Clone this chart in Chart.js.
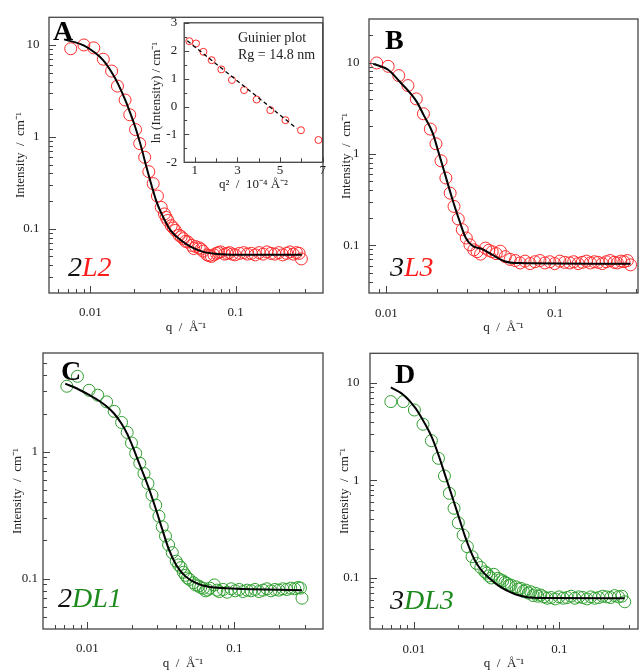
<!DOCTYPE html>
<html lang="en">
<head>
<meta charset="UTF-8" />
<title>SANS intensity curves</title>
<script src="https://cdn.jsdelivr.net/npm/chart.js"></script>
<style>
  body { margin: 0; background: #fff; width: 639px; height: 671px; overflow: hidden; position: relative; font-family: "Liberation Serif", serif; }
  canvas { position: absolute; }
  .tag { position: absolute; font-size: 28px; line-height: 28px; white-space: nowrap; }
  .letter { font-weight: bold; color: #000; }
  .sample { font-style: italic; color: #111; }
  .note { position: absolute; font-size: 14px; line-height: 14px; color: #222; white-space: nowrap; }
  .red { color: #ff1a1a; }
  .green { color: #1d8a1d; }
</style>
</head>
<body>
<canvas id="cA" width="330" height="340" style="left:0;top:0"></canvas>
<canvas id="cB" width="325" height="340" style="left:320px;top:0"></canvas>
<canvas id="cC" width="330" height="336" style="left:0;top:335px"></canvas>
<canvas id="cD" width="325" height="336" style="left:320px;top:335px"></canvas>
<canvas id="cInset" width="182" height="190" style="left:148px;top:8px"></canvas>

<div class="tag letter" style="left:53px;top:17px">A</div>
<div class="tag letter" style="left:385px;top:26px">B</div>
<div class="tag letter" style="left:61px;top:357px">C</div>
<div class="tag letter" style="left:395px;top:360px">D</div>
<div class="tag sample" style="left:68px;top:253px">2<span class="red">L2</span></div>
<div class="tag sample" style="left:390px;top:253px">3<span class="red">L3</span></div>
<div class="tag sample" style="left:58px;top:584px">2<span class="green">DL1</span></div>
<div class="tag sample" style="left:390px;top:586px">3<span class="green">DL3</span></div>
<div class="note" style="left:238px;top:31px">Guinier plot</div>
<div class="note" style="left:238px;top:48px">Rg = 14.8 nm</div>

<script>
// ---- data: panel A (2L2)
const qA = [0.00734, 0.00904, 0.01057, 0.0123, 0.01403, 0.01539, 0.01737, 0.0187, 0.0205, 0.0219,
  0.0237, 0.0253, 0.0271, 0.029, 0.0308, 0.0324, 0.0333, 0.0342, 0.0361, 0.0373,
  0.0385, 0.0409, 0.0423, 0.0438, 0.0453, 0.0469, 0.0499, 0.0515, 0.0531, 0.0562,
  0.058, 0.0598, 0.0637, 0.0658, 0.0682, 0.071, 0.0738, 0.0764, 0.0789, 0.0841,
  0.0875, 0.091, 0.095, 0.0993, 0.1064, 0.1138, 0.1208, 0.1285, 0.1368, 0.1455,
  0.155, 0.1647, 0.1754, 0.1866, 0.1986, 0.211, 0.2246, 0.2366, 0.2495, 0.2624,
  0.274, 0.284];
const iA = [9.1, 10.0, 9.3, 7.0, 5.2, 3.57, 2.52, 1.74, 1.20, 0.845,
  0.60, 0.418, 0.31, 0.227, 0.171, 0.145, 0.133, 0.123, 0.108, 0.102,
  0.096, 0.085, 0.082, 0.078, 0.073, 0.072, 0.066, 0.061, 0.064, 0.062,
  0.060, 0.057, 0.052, 0.051, 0.050, 0.052, 0.054, 0.055, 0.056, 0.053,
  0.054, 0.055, 0.053, 0.052, 0.054, 0.055, 0.053, 0.054, 0.052, 0.055,
  0.053, 0.056, 0.054, 0.053, 0.055, 0.052, 0.054, 0.056, 0.053, 0.055,
  0.054, 0.047];
const fitQA = [0.0066, 0.009, 0.0106, 0.0123, 0.0142, 0.0155, 0.0176, 0.019, 0.0205, 0.0225,
  0.0241, 0.0267, 0.0285, 0.031, 0.0357, 0.0421, 0.0494, 0.060, 0.0792, 0.12, 0.286];
const fitIA = [11.5, 9.9, 8.4, 6.8, 4.9, 3.8, 2.42, 1.75, 1.25, 0.76,
  0.50, 0.28, 0.20, 0.145, 0.096, 0.075, 0.0634, 0.056, 0.0528, 0.052, 0.052];

// ---- panel B (3L3)
const qB = [0.00877, 0.01026, 0.01186, 0.01344, 0.01506, 0.0166, 0.01824, 0.0197, 0.0211, 0.02255,
  0.0239, 0.0252, 0.0267, 0.0282, 0.0298, 0.0313, 0.033, 0.0345, 0.0362, 0.0387,
  0.0405, 0.0424, 0.0448, 0.0474, 0.0507, 0.0542, 0.0581, 0.0621, 0.0664, 0.0711,
  0.076, 0.0813, 0.0871, 0.0931, 0.0995, 0.1067, 0.114, 0.122, 0.129, 0.137,
  0.145, 0.1535, 0.162, 0.171, 0.180, 0.1905, 0.201, 0.212, 0.224, 0.234,
  0.245, 0.256, 0.268, 0.280];
const iB = [9.9, 9.1, 7.2, 5.6, 4.0, 2.75, 1.87, 1.29, 0.84, 0.545,
  0.372, 0.266, 0.194, 0.148, 0.120, 0.101, 0.089, 0.085, 0.080, 0.093,
  0.088, 0.085, 0.081, 0.086, 0.075, 0.070, 0.068, 0.064, 0.067, 0.063,
  0.066, 0.068, 0.064, 0.066, 0.063, 0.067, 0.065, 0.064, 0.066, 0.063,
  0.065, 0.067, 0.064, 0.066, 0.065, 0.063, 0.066, 0.068, 0.065, 0.064,
  0.067, 0.066, 0.068, 0.061];
const fitQB = [0.00838, 0.01026, 0.012, 0.0151, 0.0166, 0.01884, 0.0204, 0.0216, 0.0247, 0.027,
  0.0296, 0.0324, 0.037, 0.0424, 0.0507, 0.0607, 0.28];
const fitIB = [9.7, 8.35, 6.2, 3.76, 2.69, 1.69, 1.04, 0.73, 0.315, 0.19,
  0.12, 0.0986, 0.0908, 0.0787, 0.0664, 0.0638, 0.0627];

// ---- panel C (2DL1)
const qC = [0.00726, 0.00857, 0.01028, 0.01178, 0.01353, 0.01524, 0.0171, 0.01867, 0.01997, 0.02134,
  0.02274, 0.02428, 0.02584, 0.02752, 0.0292, 0.0307, 0.0323, 0.034, 0.0357, 0.0378,
  0.0402, 0.0418, 0.0434, 0.045, 0.0465, 0.048, 0.0494, 0.0528, 0.0545, 0.0571,
  0.059, 0.0615, 0.0636, 0.0658, 0.068, 0.073, 0.076, 0.0789, 0.0839, 0.0893,
  0.0951, 0.1012, 0.1077, 0.1146, 0.122, 0.1298, 0.1381, 0.1469, 0.1563, 0.1663,
  0.177, 0.1884, 0.2004, 0.2133, 0.227, 0.2415, 0.257, 0.271, 0.281, 0.288];
const iC = [3.28, 3.93, 3.05, 2.79, 2.47, 2.08, 1.70, 1.42, 1.17, 0.97,
  0.81, 0.673, 0.562, 0.455, 0.379, 0.31, 0.256, 0.216, 0.184, 0.16,
  0.137, 0.128, 0.122, 0.112, 0.106, 0.101, 0.0984, 0.0926, 0.089, 0.0873,
  0.085, 0.0837, 0.080, 0.0812, 0.084, 0.089, 0.081, 0.079, 0.082, 0.078,
  0.083, 0.080, 0.082, 0.079, 0.081, 0.080, 0.082, 0.079, 0.081, 0.083,
  0.080, 0.082, 0.081, 0.083, 0.082, 0.084, 0.083, 0.085, 0.084, 0.070];
const fitQC = [0.00708, 0.0085, 0.0104, 0.012, 0.0135, 0.0152, 0.0171, 0.0187, 0.02, 0.0227,
  0.0258, 0.0292, 0.0323, 0.0357, 0.0402, 0.0465, 0.055, 0.0641, 0.097, 0.288];
const fitIC = [3.44, 3.15, 2.78, 2.52, 2.28, 2.0, 1.66, 1.38, 1.15, 0.79,
  0.54, 0.355, 0.245, 0.172, 0.128, 0.104, 0.092, 0.087, 0.0835, 0.081];

// ---- panel D (3DL3)
const qD = [0.00695, 0.00846, 0.01009, 0.01156, 0.0132, 0.01476, 0.01622, 0.01754, 0.01888, 0.0202,
  0.0218, 0.0233, 0.0251, 0.0269, 0.0288, 0.0307, 0.0316, 0.0327, 0.034, 0.0354,
  0.0377, 0.0392, 0.0408, 0.0422, 0.0436, 0.045, 0.0465, 0.0502, 0.0522, 0.0543,
  0.0565, 0.0587, 0.061, 0.0635, 0.066, 0.0687, 0.071, 0.0743, 0.078, 0.0824,
  0.0877, 0.0935, 0.0995, 0.106, 0.1127, 0.12, 0.1276, 0.1358, 0.1449, 0.1542,
  0.164, 0.1746, 0.1858, 0.1977, 0.211, 0.2244, 0.2388, 0.2541, 0.268, 0.2805];
const iD = [6.4, 6.4, 5.25, 3.75, 2.55, 1.68, 1.11, 0.736, 0.517, 0.367,
  0.275, 0.209, 0.165, 0.141, 0.128, 0.1156, 0.112, 0.105, 0.100, 0.109,
  0.099, 0.096, 0.0936, 0.090, 0.0879, 0.084, 0.0845, 0.0812, 0.077, 0.0782,
  0.073, 0.0751, 0.070, 0.0722, 0.066, 0.0695, 0.065, 0.0668, 0.064, 0.062,
  0.063, 0.061, 0.064, 0.062, 0.063, 0.065, 0.062, 0.064, 0.063, 0.061,
  0.064, 0.062, 0.063, 0.065, 0.064, 0.063, 0.066, 0.064, 0.065, 0.057];
const fitQD = [0.00695, 0.0085, 0.01026, 0.0118, 0.0133, 0.0148, 0.0164, 0.0178, 0.0192, 0.0208,
  0.0224, 0.0243, 0.0262, 0.0285, 0.0307, 0.035, 0.0397, 0.0455, 0.0516, 0.06, 0.075, 0.28];
const fitID = [8.96, 7.5, 5.5, 3.9, 2.75, 1.80, 1.13, 0.78, 0.55, 0.38,
  0.27, 0.195, 0.152, 0.125, 0.110, 0.092, 0.080, 0.072, 0.0668, 0.0635, 0.0622, 0.0618];

// ---- inset: Guinier plot
const q2G = [0.74, 1.055, 1.40, 1.79, 2.24, 2.74, 3.31, 3.90, 4.54, 5.25, 5.98, 6.80];
const lnIG = [2.34, 2.26, 1.96, 1.66, 1.33, 0.95, 0.59, 0.25, -0.13, -0.49, -0.85, -1.20];
const guinierQ2 = [0.646, 5.78];
const guinierLn = [2.355, -0.785];

// ---- tick labels and tick marks
const qLabels = [0.01, 0.1];
const qMinorA = [0.006, 0.007, 0.008, 0.009, 0.02, 0.03, 0.04, 0.05, 0.06, 0.07, 0.08, 0.09, 0.2, 0.3];
const qMinorB = [0.009, 0.02, 0.03, 0.04, 0.05, 0.06, 0.07, 0.08, 0.09, 0.2, 0.3];
const iLabels = [0.1, 1, 10];
const iLabelsC = [0.1, 1];
const iMinorA = [0.03, 0.04, 0.05, 0.06, 0.07, 0.08, 0.09, 0.2, 0.3, 0.4, 0.5, 0.6, 0.7, 0.8, 0.9, 2, 3, 4, 5, 6, 7, 8, 9];
const iMinorB = [0.04, 0.05, 0.06, 0.07, 0.08, 0.09, 0.2, 0.3, 0.4, 0.5, 0.6, 0.7, 0.8, 0.9, 2, 3, 4, 5, 6, 7, 8, 9, 20];
const iMinorC = [0.05, 0.06, 0.07, 0.08, 0.09, 0.2, 0.3, 0.4, 0.5, 0.6, 0.7, 0.8, 0.9, 2, 3, 4, 5];
const iMinorD = [0.04, 0.05, 0.06, 0.07, 0.08, 0.09, 0.2, 0.3, 0.4, 0.5, 0.6, 0.7, 0.8, 0.9, 2, 3, 4, 5, 6, 7, 8, 9];
const q2Labels = [1, 3, 5, 7];
const q2Minor = [2, 4, 6];
const lnLabels = [-2, -1, 0, 1, 2, 3];
const lnMinor = [-1.5, -0.5, 0.5, 1.5, 2.5];

const RED = "#ff2b2b";
const GREEN = "#2f9f2f";
const FONT = "Liberation Serif";

// frame box + inward tick marks
function frameTicks(xMajor, xMinor, yMajor, yMinor, fillArea) {
  return {
    id: "frameTicks",
    beforeDraw(chart) {
      if (!fillArea) return;
      const a = chart.chartArea, ctx = chart.ctx;
      ctx.save();
      ctx.fillStyle = "#fff";
      ctx.fillRect(a.left, a.top, a.right - a.left, a.bottom - a.top);
      ctx.restore();
    },
    afterDraw(chart) {
      const { ctx, chartArea: a, scales } = chart;
      ctx.save();
      ctx.strokeStyle = "#444";
      ctx.lineWidth = 1;
      const mark = (vals, len, horiz) => vals.forEach(v => {
        if (horiz) {
          const p = Math.round(scales.x.getPixelForValue(v)) + 0.5;
          ctx.moveTo(p, a.bottom); ctx.lineTo(p, a.bottom - len);
        } else {
          const p = Math.round(scales.y.getPixelForValue(v)) + 0.5;
          ctx.moveTo(a.left, p); ctx.lineTo(a.left + len, p);
        }
      });
      ctx.beginPath();
      mark(xMajor, fillArea ? 5 : 7, true);
      mark(xMinor, 4, true);
      mark(yMajor, fillArea ? 5 : 7, false);
      mark(yMinor, fillArea ? 3 : 4, false);
      ctx.stroke();
      ctx.lineWidth = 1.3;
      ctx.strokeRect(a.left, a.top, a.right - a.left, a.bottom - a.top);
      ctx.restore();
    }
  };
}

function axis(type, min, max, labels, size, tickPad, title, titlePad, horiz) {
  return {
    type: type, min: min, max: max,
    position: horiz ? "bottom" : "left",
    grid: { display: false, drawTicks: false },
    border: { display: false },
    afterBuildTicks: s => { s.ticks = labels.map(v => ({ value: v })); },
    afterFit: s => { if (horiz) s.height = size; else s.width = size; },
    ticks: {
      autoSkip: false, maxRotation: 0, padding: tickPad, color: "#222",
      font: { family: FONT, size: 13 },
      callback: v => String(v)
    },
    title: {
      display: true, text: title, color: "#222",
      font: { family: FONT, size: 13 },
      padding: horiz ? { top: 0, bottom: titlePad } : { top: titlePad, bottom: 0 }
    }
  };
}

function panel(id, p) {
  const pts = (xs, ys) => xs.map((x, i) => ({ x: x, y: ys[i] }));
  return new Chart(document.getElementById(id), {
    type: "scatter",
    data: {
      datasets: [
        {
          data: pts(p.fitX, p.fitY), showLine: true, borderColor: "#000",
          borderWidth: p.lineWidth, borderDash: p.dash, pointRadius: 0,
          cubicInterpolationMode: "monotone"
        },
        {
          data: pts(p.x, p.y), pointRadius: p.r, pointBorderWidth: 1,
          borderColor: p.color, backgroundColor: "rgba(0,0,0,0)"
        }
      ]
    },
    options: {
      responsive: false, animation: false, events: [],
      layout: { padding: { left: 0, top: p.padTop, right: p.padRight, bottom: 0 } },
      plugins: { legend: { display: false }, tooltip: { enabled: false } },
      scales: {
        x: axis(p.type, p.xMin, p.xMax, p.xLabels, p.xSize, p.xTickPad, p.xTitle, p.xTitlePad, true),
        y: axis(p.type, p.yMin, p.yMax, p.yLabels, p.ySize, p.yTickPad, p.yTitle, p.yTitlePad, false)
      }
    },
    plugins: [frameTicks(p.xLabels, p.xMinor, p.yLabels, p.yMinor, p.fill)]
  });
}

const xTitle = "q  /  Å⁻¹";
const yTitle = "Intensity  /  cm⁻¹";

panel("cA", {
  type: "logarithmic", x: qA, y: iA, fitX: fitQA, fitY: fitIA, color: RED, r: 6, lineWidth: 2, dash: [],
  xMin: 0.0052, xMax: 0.4, yMin: 0.02, yMax: 20,
  xLabels: qLabels, xMinor: qMinorA, yLabels: iLabels, yMinor: iMinorA,
  padTop: 15, padRight: 4, xSize: 47, ySize: 49, xTickPad: 12, yTickPad: 9.5,
  xTitle: xTitle, yTitle: yTitle, xTitlePad: 5, yTitlePad: 13
});

panel("cB", {
  type: "logarithmic", x: qB, y: iB, fitX: fitQB, fitY: fitIB, color: RED, r: 6, lineWidth: 2, dash: [],
  xMin: 0.0079, xMax: 0.31, yMin: 0.03, yMax: 30,
  xLabels: qLabels, xMinor: qMinorB, yLabels: iLabels, yMinor: iMinorB,
  padTop: 19, padRight: 4, xSize: 47, ySize: 49, xTickPad: 12.5, yTickPad: 9.5,
  xTitle: xTitle, yTitle: yTitle, xTitlePad: 5, yTitlePad: 19
});

panel("cC", {
  type: "logarithmic", x: qC, y: iC, fitX: fitQC, fitY: fitIC, color: GREEN, r: 6, lineWidth: 2, dash: [],
  xMin: 0.005, xMax: 0.4, yMin: 0.04, yMax: 6,
  xLabels: qLabels, xMinor: qMinorA, yLabels: iLabelsC, yMinor: iMinorC,
  padTop: 18, padRight: 5, xSize: 42, ySize: 43, xTickPad: 11.5, yTickPad: 5,
  xTitle: xTitle, yTitle: yTitle, xTitlePad: 0, yTitlePad: 10
});

panel("cD", {
  type: "logarithmic", x: qD, y: iD, fitX: fitQD, fitY: fitID, color: GREEN, r: 6, lineWidth: 2, dash: [],
  xMin: 0.005, xMax: 0.346, yMin: 0.03, yMax: 20,
  xLabels: qLabels, xMinor: qMinorA, yLabels: iLabels, yMinor: iMinorD,
  padTop: 18, padRight: 4, xSize: 42, ySize: 50, xTickPad: 13, yTickPad: 10.5,
  xTitle: xTitle, yTitle: yTitle, xTitlePad: 0, yTitlePad: 17
});

panel("cInset", {
  type: "linear", x: q2G, y: lnIG, fitX: guinierQ2, fitY: guinierLn, color: RED, r: 3.5, lineWidth: 1.3, dash: [4, 3],
  xMin: 0.5, xMax: 7, yMin: -2, yMax: 3,
  xLabels: q2Labels, xMinor: q2Minor, yLabels: lnLabels, yMinor: lnMinor,
  padTop: 14.7, padRight: 7.3, xSize: 35.7, ySize: 36.2, xTickPad: 0, yTickPad: 7,
  xTitle: "q²  /  10⁻⁴ Å⁻²", yTitle: "ln (Intensity) / cm⁻¹", xTitlePad: 6, yTitlePad: 1.2,
  fill: true
});
</script>
</body>
</html>
